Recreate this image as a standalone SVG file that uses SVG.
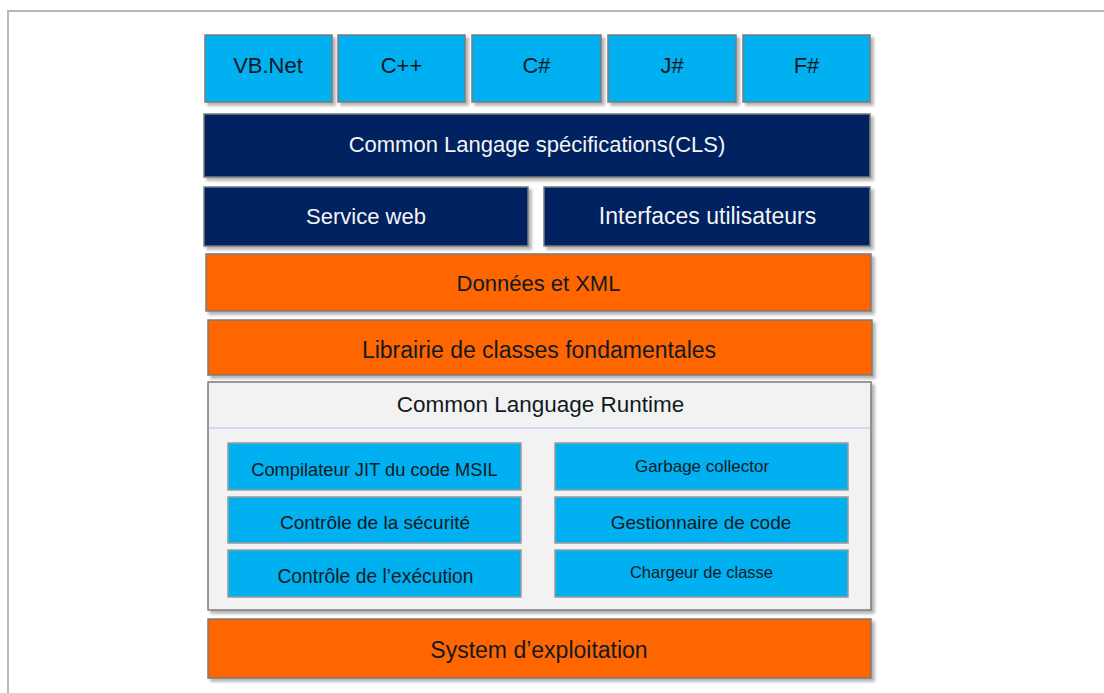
<svg xmlns="http://www.w3.org/2000/svg" width="1104" height="693" viewBox="0 0 1104 693">
  <defs>
    <filter id="shadow" x="-5%" y="-10%" width="115%" height="130%">
      <feDropShadow dx="3" dy="3" stdDeviation="1.5" flood-color="#000" flood-opacity="0.3"/>
    </filter>
    <style>
      .lang { fill: #00B0F0; stroke: #7a7a7a; stroke-width: 1.5; filter: url(#shadow); }
      .navy { fill: #002060; stroke: #7a7a7a; stroke-width: 1.5; filter: url(#shadow); }
      .orange { fill: #FF6600; stroke: #7a7a7a; stroke-width: 1.5; filter: url(#shadow); }
      .clr { fill: #F2F2F2; stroke: #7a7a7a; stroke-width: 1.5; filter: url(#shadow); }
      .sub { fill: #00B0F0; stroke: #9a9a9a; stroke-width: 1.5; }
      text { font-family: "Liberation Sans", Arial, sans-serif; text-anchor: middle; }
      .big { font-size: 22px; }
      .big23 { font-size: 23px; }
      .dark { fill: #111a22; }
      .light { fill: #f4f4f4; }
    </style>
  </defs>

  <rect width="1104" height="693" fill="#ffffff"/>

  <!-- page frame -->
  <g id="frame" fill="none" stroke="#b8b8b8" stroke-width="2">
    <path d="M8 693 V11 H1104"/>
  </g>

  <!-- language row -->
  <g id="vbnet"><rect class="lang" x="205" y="35" width="127" height="67"/><text class="big dark" x="268" y="73">VB.Net</text></g>
  <g id="cpp"><rect class="lang" x="338" y="35" width="127" height="67"/><text class="big dark" x="401.5" y="73">C++</text></g>
  <g id="csharp"><rect class="lang" x="472" y="35" width="129" height="67"/><text class="big dark" x="536.5" y="73">C#</text></g>
  <g id="jsharp"><rect class="lang" x="608" y="35" width="128" height="67"/><text class="big dark" x="672" y="73">J#</text></g>
  <g id="fsharp"><rect class="lang" x="743" y="35" width="127" height="67"/><text class="big dark" x="806.5" y="73">F#</text></g>

  <!-- CLS -->
  <g id="cls"><rect class="navy" x="204" y="114" width="666" height="63"/><text class="big light" x="537" y="152">Common Langage spécifications(CLS)</text></g>

  <!-- services -->
  <g id="service-web"><rect class="navy" x="204" y="187" width="324" height="59"/><text class="big light" x="366" y="224">Service web</text></g>
  <g id="interfaces"><rect class="navy" x="544" y="187" width="326" height="59"/><text class="big23 light" x="707.5" y="224">Interfaces utilisateurs</text></g>

  <!-- data and libraries -->
  <g id="donnees"><rect class="orange" x="206" y="254" width="665" height="57"/><text class="big dark" x="538.5" y="291">Données et XML</text></g>
  <g id="librairie"><rect class="orange" x="208" y="320" width="664" height="55"/><text class="big23 dark" x="539" y="358">Librairie de classes fondamentales</text></g>

  <!-- runtime -->
  <g id="clr">
    <rect class="clr" x="208" y="382" width="663" height="228"/>
    <line x1="209" y1="428" x2="870" y2="428" stroke="#a9c4e6" stroke-width="1.2"/>
    <text class="dark" x="540.5" y="412" font-size="22.5">Common Language Runtime</text>
  </g>
  <g id="jit"><rect class="sub" x="228" y="443" width="293" height="47"/><text class="dark" x="374.5" y="476" font-size="18.3">Compilateur JIT du code MSIL</text></g>
  <g id="securite"><rect class="sub" x="228" y="497" width="293" height="46"/><text class="dark" x="375" y="528.5" font-size="19">Contrôle de la sécurité</text></g>
  <g id="execution"><rect class="sub" x="228" y="550" width="293" height="47"/><text class="dark" x="375.5" y="582.5" font-size="19.3">Contrôle de l’exécution</text></g>
  <g id="garbage"><rect class="sub" x="555" y="443" width="293" height="47"/><text class="dark" x="702" y="472" font-size="17">Garbage collector</text></g>
  <g id="gestionnaire"><rect class="sub" x="555" y="497" width="293" height="46"/><text class="dark" x="701" y="528.5" font-size="19">Gestionnaire de code</text></g>
  <g id="chargeur"><rect class="sub" x="555" y="550" width="293" height="47"/><text class="dark" x="701.5" y="578" font-size="16.5">Chargeur de classe</text></g>

  <!-- operating system -->
  <g id="os"><rect class="orange" x="208" y="619" width="663" height="59"/><text class="big23 dark" x="539" y="658">System d’exploitation</text></g>

  <g id="connectors"/>
</svg>
